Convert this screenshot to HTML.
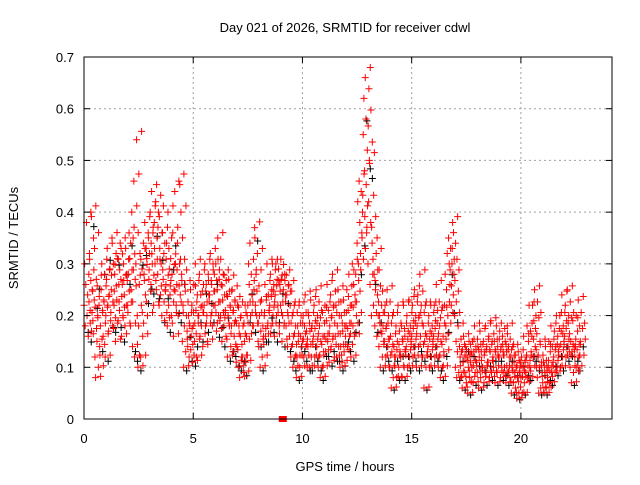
<!DOCTYPE html>
<html><head><meta charset="utf-8"><style>
body{margin:0;background:#fff}
svg text{font-family:"Liberation Sans",sans-serif;font-size:13px;fill:#000}
</style></head><body>
<svg id="chart" width="640" height="480" xmlns="http://www.w3.org/2000/svg">
<rect width="640" height="480" fill="#fff"/>
<g id="grid"></g>
<g id="marks"></g>
<rect x="84" y="57" width="528" height="362" fill="none" stroke="#000" stroke-width="1"/>
<g id="axes"></g>
<text x="345" y="32" text-anchor="middle">Day 021 of 2026, SRMTID for receiver cdwl</text>
<text x="345" y="471" text-anchor="middle">GPS time / hours</text>
<text transform="translate(18,238) rotate(-90)" text-anchor="middle">SRMTID / TECUs</text>
</svg>
<script>
const xTicks=[0,5,10,15,20];
const yTicks=[0,0.1,0.2,0.3,0.4,0.5,0.6,0.7];
const yTickLabels=["0","0.1","0.2","0.3","0.4","0.5","0.6","0.7"];
const binStart=0, binWidth=0.25;
// y values (TECU) per 0.25 h bin
const binValues=[
[.22,.30,.18,.26,.38,.20,.24,.16,.28],[.32,.21,.40,.17,.25,.19,.35,.23],[.12,.08,.27,.15,.20,.10,.22,.14],[.18,.25,.30,.21,.16,.23,.28,.12],
[.20,.27,.33,.22,.17,.24,.29,.19],[.25,.35,.18,.30,.22,.28,.15,.32],[.23,.31,.19,.26,.21,.34,.27,.16],[.26,.20,.30,.24,.18,.33,.22,.28],
[.22,.28,.36,.31,.18,.25,.40,.14],[.35,.46,.12,.27,.30,.54,.20,.10],[.18,.26,.32,.12,.22,.29,.16,.34],[.28,.38,.24,.33,.31,.20,.36,.27],
[.32,.40,.26,.44,.30,.36,.22,.38],[.30,.42,.25,.35,.28,.40,.22,.33],[.24,.30,.20,.36,.27,.32,.19,.25],[.26,.34,.18,.40,.22,.29,.24,.31],
[.20,.28,.36,.16,.25,.44,.30,.22],[.26,.34,.20,.46,.30,.24,.40,.28],[.15,.22,.10,.18,.26,.13,.20,.17],[.14,.20,.12,.18,.25,.16,.22,.11],
[.18,.26,.15,.30,.21,.12,.24,.20],[.20,.28,.16,.24,.18,.22,.14,.26],[.22,.30,.18,.26,.20,.15,.28,.24],[.24,.32,.20,.26,.18,.30,.22,.28],
[.22,.30,.17,.25,.35,.20,.27,.19],[.20,.26,.15,.23,.28,.18,.24,.21],[.16,.24,.12,.20,.27,.18,.22,.14],[.18,.25,.13,.21,.16,.23,.19,.11],
[.14,.22,.10,.18,.08,.16,.20,.12],[.12,.18,.09,.15,.22,.11,.16,.20],[.22,.30,.26,.34,.20,.28,.24,.18],[.18,.25,.37,.22,.28,.20,.32,.15],
[.14,.20,.10,.17,.23,.12,.18,.16],[.20,.26,.16,.23,.30,.18,.24,.21],[.22,.28,.18,.25,.30,.20,.26,.16],[.24,.30,.20,.27,.22,.29,.18,.26],
[.22,.27,.15,.20,.25,.18,.28,.24],[.18,.24,.14,.20,.26,.16,.22,.12],[.14,.20,.10,.16,.22,.12,.18,.08],[.12,.18,.15,.22,.10,.16,.20,.14],
[.15,.20,.12,.18,.24,.14,.17,.10],
[.14,.20,.10,.17,.23,.12,.18,.15],[.16,.22,.12,.19,.25,.14,.20,.10],[.12,.18,.08,.15,.21,.10,.16,.13],
[.16,.22,.13,.19,.26,.15,.21,.11],[.18,.24,.14,.20,.28,.16,.22,.12],[.16,.22,.12,.18,.25,.14,.20,.10],
[.14,.20,.11,.17,.23,.13,.18,.16],[.18,.25,.14,.21,.28,.16,.22,.12],[.22,.30,.18,.26,.16,.24,.28,.20],[.34,.42,.30,.46,.38,.32,.44,.36],
[.40,.55,.62,.48,.66,.58,.36,.52],[.30,.42,.50,.26,.38,.20,.34,.28],[.22,.28,.18,.25,.32,.16,.24,.20],[.14,.20,.10,.17,.22,.12,.18,.15],
[.15,.22,.12,.18,.25,.14,.20,.10],[.10,.16,.06,.13,.20,.08,.14,.12],[.12,.18,.08,.15,.22,.10,.17,.13],
[.12,.18,.08,.15,.22,.10,.16,.13],[.14,.20,.10,.17,.23,.12,.18,.15],
[.16,.22,.12,.19,.25,.14,.20,.10],[.18,.24,.14,.20,.28,.16,.22,.12],[.12,.18,.06,.15,.22,.10,.16,.13],
[.14,.20,.10,.17,.22,.12,.18,.15],[.16,.22,.12,.19,.26,.14,.21,.10],[.12,.18,.08,.15,.21,.10,.16,.13],
[.22,.28,.18,.25,.32,.20,.35,.30],[.26,.33,.22,.30,.38,.24,.28,.20],[.10,.15,.08,.13,.18,.09,.14,.12],[.08,.13,.06,.11,.16,.09,.12,.14],
[.07,.12,.05,.10,.15,.08,.11,.13],[.10,.15,.07,.13,.18,.09,.14,.11],[.09,.14,.06,.12,.17,.08,.13,.10],
[.10,.15,.07,.13,.18,.09,.14,.11],[.11,.16,.08,.13,.19,.09,.15,.12],[.10,.15,.07,.13,.18,.09,.14,.12],
[.12,.17,.08,.14,.10,.16,.13,.09],[.10,.15,.07,.13,.18,.09,.14,.12],
[.08,.12,.05,.10,.14,.07,.11,.09],[.06,.10,.04,.08,.13,.05,.09,.11],[.08,.12,.05,.10,.16,.07,.11,.09],
[.12,.18,.08,.15,.22,.10,.17,.13],[.16,.22,.12,.19,.25,.14,.20,.10],[.08,.12,.05,.10,.15,.06,.11,.09],[.07,.11,.05,.09,.14,.06,.10,.08],
[.10,.15,.07,.13,.18,.09,.14,.11],[.12,.17,.09,.14,.20,.10,.16,.13],[.14,.20,.10,.17,.24,.12,.18,.15],[.16,.22,.12,.19,.25,.14,.20,.13],
[.10,.15,.07,.13,.19,.09,.14,.12],[.14,.20,.10,.17,.23,.12,.18,.15]
];
const markerTime=[9.1], markerValue=[0];
const X0=84,X1=612,Y0=419,Y1=57,XMAX=24.17,YMAX=0.7;
const sx=v=>X0+v/XMAX*(X1-X0), sy=v=>Y0-v/YMAX*(Y0-Y1);
const NS="http://www.w3.org/2000/svg";
const grid=document.getElementById('grid'),axes=document.getElementById('axes'),marks=document.getElementById('marks');
function mk(t,a,p){const e=document.createElementNS(NS,t);for(const k in a)e.setAttribute(k,a[k]);p.appendChild(e);return e;}
xTicks.forEach(t=>{const x=sx(t);
 if(t>0){const g=mk('line',{x1:x,x2:x,y1:Y0,y2:Y1,stroke:'#a0a0a0','stroke-dasharray':'2,3'},grid);
 
 }
 mk('line',{x1:x,x2:x,y1:Y0,y2:Y0-6,stroke:'#000'},axes);mk('line',{x1:x,x2:x,y1:Y1,y2:Y1+6,stroke:'#000'},axes);
 const tx=mk('text',{x:x,y:Y0+24,'text-anchor':'middle'},axes);tx.textContent=t;
 
 });
yTicks.forEach((t,i)=>{const y=sy(t);
 if(t>0&&t<YMAX){const g=mk('line',{x1:X0,x2:X1,y1:y,y2:y,stroke:'#a0a0a0','stroke-dasharray':'2,3'},grid);
 
 }
 mk('line',{x1:X0,x2:X0+6,y1:y,y2:y,stroke:'#000'},axes);mk('line',{x1:X1,x2:X1-6,y1:y,y2:y,stroke:'#000'},axes);
 const tx=mk('text',{x:X0-10,y:y+5,'text-anchor':'end'},axes);tx.textContent=yTickLabels[i];
 
 });
let d='',dk='';
binValues.forEach((vals,b)=>{vals.forEach((v,j)=>{
 const t=binStart+b*binWidth+j*binWidth/vals.length;const x=sx(t),y=sy(v);
 d+=`M${x-3.5},${y}h7M${x},${y-3.5}v7`;
 const y3=sy(v*1.03);d+=`M${x+1.5},${y3}h7M${x+5},${y3-3.5}v7`;
 if(j%5==2){const x2=x+3,y2=sy(v*0.93);dk+=`M${x2-3.5},${y2}h7M${x2},${y2-3.5}v7`;}
});});
const pk=mk('path',{d:dk,stroke:'#000','stroke-width':1,fill:'none'},marks);


const pr=mk('path',{d:d,stroke:'#f00','stroke-width':1,fill:'none'},marks);


markerTime.forEach((t,i)=>{const r=mk('rect',{x:sx(t)-4,y:sy(markerValue[i])-3,width:8,height:6,fill:'#f00'},marks);
 
 });
</script>
</body></html>
